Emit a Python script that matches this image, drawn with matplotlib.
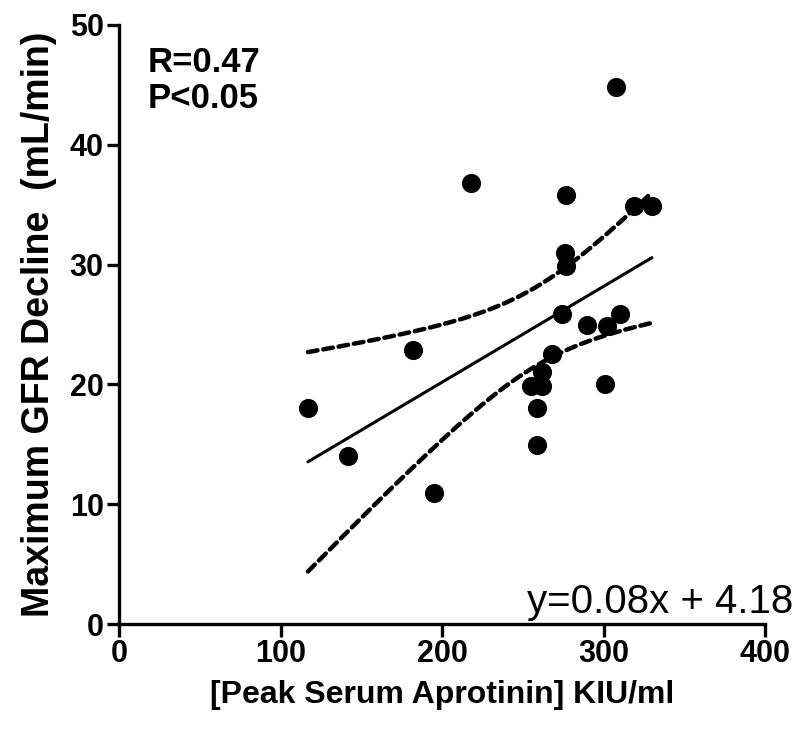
import numpy as np
import matplotlib
matplotlib.use("Agg")
import matplotlib.pyplot as plt

# data
aprotinin = [308, 218, 277, 319, 330, 276, 277, 274, 290, 302, 310,
             182, 268, 262, 255, 262, 301, 117, 259, 259, 142, 195]
gfr_decline = [44.8, 36.8, 35.8, 34.9, 34.9, 31.0, 29.9, 25.9, 25.0, 24.9, 25.9,
               22.9, 22.5, 21.0, 19.9, 19.9, 20.0, 18.0, 18.0, 14.9, 14.0, 10.9]
slope = 0.08
intercept = 4.18
x_ticks = [0, 100, 200, 300, 400]
y_ticks = [0, 10, 20, 30, 40, 50]

narrow = ["Liberation Sans Narrow", "Liberation Sans", "DejaVu Sans"]
wide = ["Liberation Sans", "DejaVu Sans"]

x = np.array(aprotinin, dtype=float)
y = np.array(gfr_decline, dtype=float)

# regression line and 95% confidence band
n = len(x)
xbar = x.mean()
sxx = ((x - xbar) ** 2).sum()
resid = y - (slope * x + intercept)
s = np.sqrt((resid ** 2).sum() / (n - 2))
t = 2.086
xx = np.linspace(x.min(), x.max(), 200)
yy = slope * xx + intercept
hw = t * s * np.sqrt(1.0 / n + (xx - xbar) ** 2 / sxx)

fig = plt.figure(figsize=(8, 7.37), dpi=100)
ax = fig.add_axes([119 / 800, (737 - 624) / 737, 646 / 800, 599 / 737])

ax.plot(xx, yy, color="black", linewidth=2.2, solid_capstyle="round")
ax.plot(xx, yy + hw, color="black", linewidth=3.2, linestyle=(0, (2.2, 1.3)),
        dash_capstyle="round")
ax.plot(xx, yy - hw, color="black", linewidth=3.2, linestyle=(0, (2.2, 1.3)),
        dash_capstyle="round")
ax.scatter(x, y, s=190, color="black", zorder=3, linewidths=0)

ax.set_xlim(0, 400)
ax.set_ylim(0, 50)
ax.set_xticks(x_ticks)
ax.set_yticks(y_ticks)
for side in ["top", "right"]:
    ax.spines[side].set_visible(False)
for side in ["left", "bottom"]:
    ax.spines[side].set_linewidth(2.4)
ax.tick_params(axis="both", direction="out", length=9, width=2.4, pad=2)
for lbl in ax.get_xticklabels() + ax.get_yticklabels():
    lbl.set_family(narrow)
    lbl.set_fontweight("bold")
    lbl.set_fontsize(22)

ax.set_xlabel("[Peak Serum Aprotinin] KIU/ml", family=narrow, fontweight="bold",
              fontsize=23, labelpad=8)
ax.set_ylabel("Maximum GFR Decline  (mL/min)", family=wide, fontweight="bold",
              fontsize=27, labelpad=9)

ax.text(0.045, 0.965, "R=0.47\nP<0.05", transform=ax.transAxes, family=wide,
        fontweight="bold", fontsize=25, va="top", ha="left", linespacing=1.1)
ax.text(1.043, 0.005, "y=0.08x + 4.18", transform=ax.transAxes, family=narrow,
        fontsize=29, va="bottom", ha="right")

fig.savefig("out.png", dpi=100)
